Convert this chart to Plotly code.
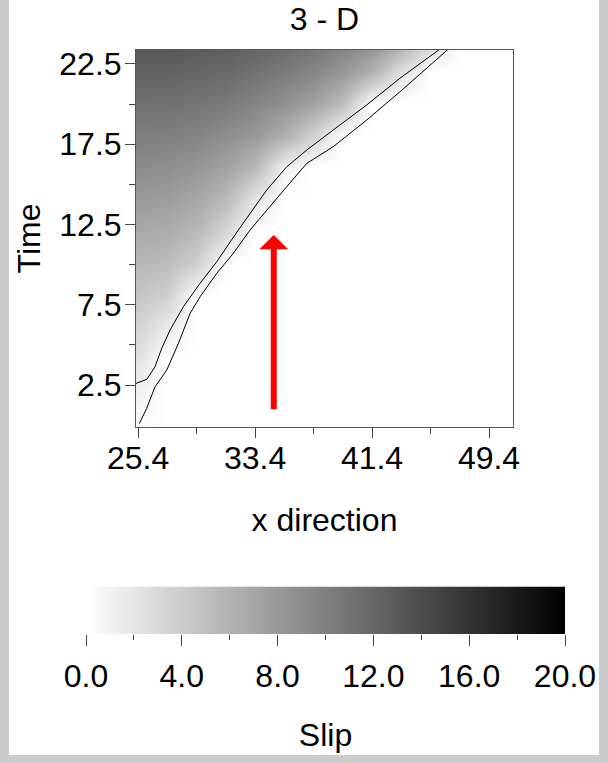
import plotly.graph_objects as go

# ---------------- data ----------------
# slip field sampled on a coarse (x, time) grid, read from the picture
x_grid = [25.4, 27.4, 29.4, 31.4, 33.4, 35.4, 37.4, 39.4, 41.4, 43.4, 45.4, 47.4, 49.4, 51.4]
t_grid = [0, 2, 4, 6, 8, 10, 12, 14, 16, 18, 20, 22, 24]
slip = [
    [0.4, 0, 0, 0, 0, 0, 0, 0, 0, 0, 0, 0, 0, 0],
    [1.1, 0, 0, 0, 0, 0, 0, 0, 0, 0, 0, 0, 0, 0],
    [2.2, 0, 0, 0, 0, 0, 0, 0, 0, 0, 0, 0, 0, 0],
    [3.4, 1.5, 0, 0, 0, 0, 0, 0, 0, 0, 0, 0, 0, 0],
    [4.5, 3.7, 0, 0, 0, 0, 0, 0, 0, 0, 0, 0, 0, 0],
    [5.6, 5.2, 3.6, 0, 0, 0, 0, 0, 0, 0, 0, 0, 0, 0],
    [6.7, 6.4, 5.4, 3.1, 0, 0, 0, 0, 0, 0, 0, 0, 0, 0],
    [7.8, 7.6, 6.9, 5.4, 2.1, 0, 0, 0, 0, 0, 0, 0, 0, 0],
    [9.0, 8.8, 8.2, 7.2, 5.5, 1.1, 0, 0, 0, 0, 0, 0, 0, 0],
    [10.1, 10.0, 9.6, 8.9, 7.9, 6.3, 3.5, 0, 0, 0, 0, 0, 0, 0],
    [11.2, 11.1, 10.8, 10.4, 9.6, 8.6, 7.2, 5.1, 0, 0, 0, 0, 0, 0],
    [12.3, 12.3, 12.0, 11.7, 11.1, 10.4, 9.4, 8.1, 6.2, 2.4, 0, 0, 0, 0],
    [13.4, 13.4, 13.2, 12.9, 12.5, 11.9, 11.2, 10.2, 9.0, 7.4, 3.6, 0, 0, 0],
]

# smooth contour line (upper / left)
upper_x = [25.26, 26.0, 26.56, 27.02, 27.59, 28.50, 29.64, 30.78, 32.26, 34.2,
           35.57, 36.94, 38.75, 41.04, 43.31, 46.05]
upper_t = [2.61, 2.86, 3.64, 4.79, 5.93, 7.38, 8.84, 10.18, 12.16, 14.65,
           16.10, 17.14, 18.39, 19.95, 21.61, 23.43]

# stepped rupture-front line (lower / right)
front_x = [25.49, 25.99, 26.56, 27.36, 28.16, 28.96, 29.64, 30.78, 31.92, 33.06,
           35.57, 36.94, 38.75, 41.04, 43.31, 46.62]
front_t = [0.11, 1.05, 2.39, 3.43, 5.10, 6.97, 8.00, 9.46, 10.71, 12.16,
           14.86, 16.31, 17.35, 19.01, 20.77, 23.43]

# arrow (data coordinates)
arrow_x = 34.68
arrow_t_tail = 0.9
arrow_t_tip = 11.85

x_tickvals = [25.4, 33.4, 41.4, 49.4]
x_ticktext = ["25.4", "33.4", "41.4", "49.4"]
x_minor = [29.4, 37.4, 45.4]
y_tickvals = [2.5, 7.5, 12.5, 17.5, 22.5]
y_ticktext = ["2.5", "7.5", "12.5", "17.5", "22.5"]
y_minor = [5, 10, 15, 20]

slip_min, slip_max = 0.0, 20.0
cb_tickvals = [0, 4, 8, 12, 16, 20]
cb_ticktext = ["0.0", "4.0", "8.0", "12.0", "16.0", "20.0"]
cb_minor = [2, 6, 10, 14, 18]

# ---------------- figure ----------------
W, H = 608, 763
gray_scale = [[0, "#ffffff"], [1, "#000000"]]
FONT = "Liberation Sans, Arial, Helvetica, sans-serif"
FS = 32
TICKC = "#444444"

fig = go.Figure()
fig.add_trace(go.Heatmap(
    x=x_grid, y=t_grid, z=slip, zmin=slip_min, zmax=slip_max,
    colorscale=gray_scale, zsmooth="best", showscale=False, hoverinfo="skip",
    xaxis="x", yaxis="y"))
fig.add_trace(go.Scatter(x=upper_x, y=upper_t, mode="lines",
                         line=dict(color="black", width=1), xaxis="x", yaxis="y"))
fig.add_trace(go.Scatter(x=front_x, y=front_t, mode="lines",
                         line=dict(color="black", width=1), xaxis="x", yaxis="y"))

# colour bar drawn as its own small axis
fig.add_trace(go.Heatmap(
    x=[slip_min, slip_max], y=[0, 1], z=[[slip_min, slip_max], [slip_min, slip_max]],
    zmin=slip_min, zmax=slip_max, colorscale=gray_scale, zsmooth="best",
    showscale=False, hoverinfo="skip", xaxis="x2", yaxis="y2"))

fig.add_annotation(
    x=arrow_x, y=arrow_t_tip, ax=arrow_x, ay=arrow_t_tail,
    xref="x", yref="y", axref="x", ayref="y", text="", showarrow=True,
    arrowhead=1, arrowsize=0.8, arrowwidth=6, arrowcolor="#ff0000", standoff=0)

title_font = dict(family=FONT, size=FS, color="black")

fig.update_layout(
    width=W, height=H, margin=dict(l=0, r=0, t=0, b=0, pad=0, autoexpand=False),
    paper_bgcolor="#cbcbcb", plot_bgcolor="white", showlegend=False,
    font=dict(family=FONT, size=FS, color="black"),
    title=dict(text="3 - D", x=324.5 / W, xanchor="center", automargin=False,
               y=1 - 19 / H, yanchor="middle", font=title_font),
    shapes=[dict(type="rect", xref="paper", yref="paper",
                 x0=9 / W, x1=599 / W, y0=1 - 755 / H, y1=1,
                 fillcolor="white", line=dict(width=0), layer="below")],
    xaxis=dict(domain=[136 / W, 513 / W], range=[25.26, 51.04], anchor="y",
               automargin=False,
               tickmode="array", tickvals=x_tickvals, ticktext=x_ticktext,
               ticks="outside", ticklen=10, tickcolor=TICKC, ticklabelstandoff=-7,
               minor=dict(tickmode="array", tickvals=x_minor, ticks="outside",
                          ticklen=6, tickcolor=TICKC),
               showline=True, mirror=True, linecolor="#555555", linewidth=1,
               showgrid=False, zeroline=False,
               title=dict(text="x direction", standoff=33, font=title_font)),
    yaxis=dict(domain=[1 - 427 / H, 1 - 50 / H], range=[-0.11, 23.37], anchor="x",
               automargin=False,
               tickmode="array", tickvals=y_tickvals, ticktext=y_ticktext,
               ticks="outside", ticklen=10, tickcolor=TICKC, ticklabelstandoff=-3,
               minor=dict(tickmode="array", tickvals=y_minor, ticks="outside",
                          ticklen=6, tickcolor=TICKC),
               showline=True, mirror=True, linecolor="#555555", linewidth=1,
               showgrid=False, zeroline=False,
               title=dict(text="Time", standoff=9, font=title_font)),
    xaxis2=dict(domain=[86 / W, 565 / W], range=[slip_min, slip_max], anchor="y2",
                automargin=False,
                tickmode="array", tickvals=cb_tickvals, ticktext=cb_ticktext,
                ticks="outside", ticklen=11, tickcolor=TICKC, ticklabelstandoff=3,
                minor=dict(tickmode="array", tickvals=cb_minor, ticks="outside",
                           ticklen=5, tickcolor=TICKC),
                showline=False, showgrid=False, zeroline=False,
                title=dict(text="Slip", standoff=30, font=title_font)),
    yaxis2=dict(domain=[1 - 634 / H, 1 - 586.5 / H], range=[0, 1], anchor="x2",
                visible=False, automargin=False),
)

fig.write_html("out.html", config={"displayModeBar": False},
               post_script="document.body.style.margin='0px';")
